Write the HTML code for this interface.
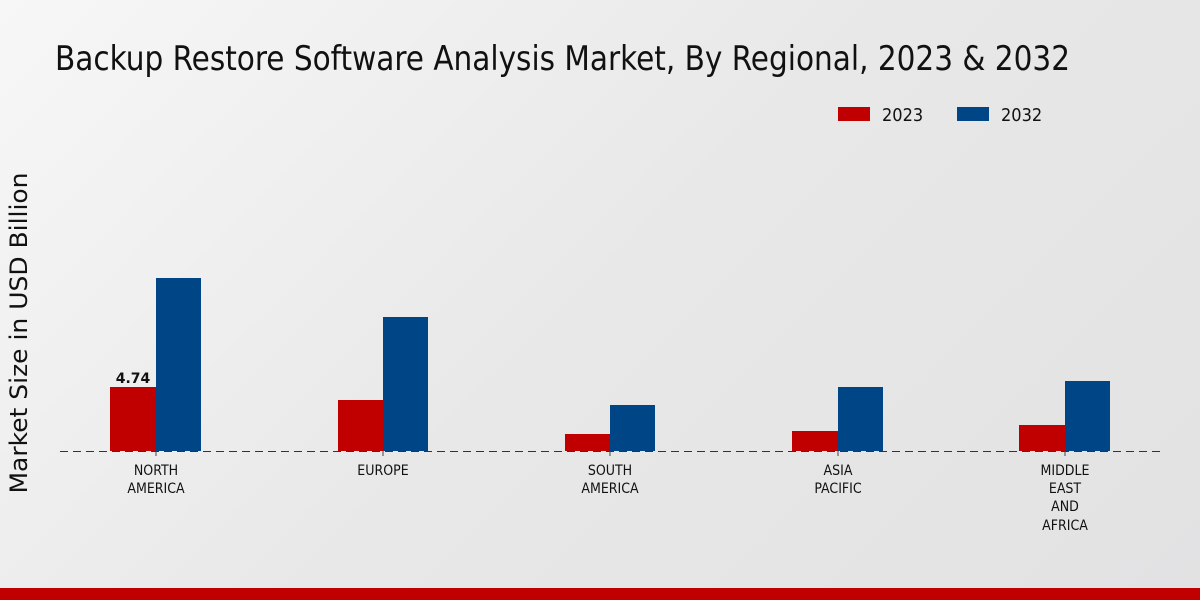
<!DOCTYPE html>
<html><head><meta charset="utf-8"><style>
body{margin:0;width:1200px;height:600px;overflow:hidden;background:linear-gradient(135deg,#f7f7f7 0%,#e8e8e8 50%,#e2e2e3 100%);font-family:"DejaVu Sans Condensed","DejaVu Sans","Liberation Sans",sans-serif;}
</style></head><body>
<svg width="1200" height="600" xmlns="http://www.w3.org/2000/svg" style="position:absolute;left:0;top:0">
<text x="55" y="70" font-size="34" fill="#111" font-family="DejaVu Sans Condensed, DejaVu Sans, sans-serif" textLength="1015" lengthAdjust="spacingAndGlyphs">Backup Restore Software Analysis Market, By Regional, 2023 &amp; 2032</text>
<rect x="838" y="107" width="32" height="14" fill="#c00000"/>
<text x="882" y="121" font-size="18" fill="#111">2023</text>
<rect x="957" y="107" width="32" height="14" fill="#004687"/>
<text x="1001" y="121" font-size="18" fill="#111">2032</text>
<text transform="translate(27,333) rotate(-90)" text-anchor="middle" font-size="24" fill="#111" font-family="DejaVu Sans, sans-serif" textLength="321" lengthAdjust="spacingAndGlyphs">Market Size in USD Billion</text>
<g>
<rect x="110" y="387" width="46" height="64" fill="#c00000"/><rect x="156" y="278" width="45" height="173" fill="#004687"/>
<rect x="338" y="400" width="45" height="51" fill="#c00000"/><rect x="383" y="317" width="45" height="134" fill="#004687"/>
<rect x="565" y="434" width="45" height="17" fill="#c00000"/><rect x="610" y="405" width="45" height="46" fill="#004687"/>
<rect x="792" y="431" width="46" height="20" fill="#c00000"/><rect x="838" y="387" width="45" height="64" fill="#004687"/>
<rect x="1019" y="425" width="46" height="26" fill="#c00000"/><rect x="1065" y="381" width="45" height="70" fill="#004687"/>
</g>
<line x1="60" y1="451.5" x2="1160" y2="451.5" stroke="#333" stroke-width="1" stroke-dasharray="8,5"/>
<text x="133" y="383" text-anchor="middle" font-size="14" font-weight="bold" fill="#111" font-family="DejaVu Sans, sans-serif">4.74</text>
<g font-size="14" fill="#111" text-anchor="middle">
<line x1="156" y1="451" x2="156" y2="456" stroke="#444"/><line x1="383" y1="451" x2="383" y2="456" stroke="#444"/><line x1="610" y1="451" x2="610" y2="456" stroke="#444"/><line x1="838" y1="451" x2="838" y2="456" stroke="#444"/><line x1="1065" y1="451" x2="1065" y2="456" stroke="#444"/>
<text x="156" y="475">NORTH</text><text x="156" y="493">AMERICA</text>
<text x="383" y="475">EUROPE</text>
<text x="610" y="475">SOUTH</text><text x="610" y="493">AMERICA</text>
<text x="838" y="475">ASIA</text><text x="838" y="493">PACIFIC</text>
<text x="1065" y="475">MIDDLE</text><text x="1065" y="493">EAST</text><text x="1065" y="511">AND</text><text x="1065" y="530">AFRICA</text>
</g>
<rect x="0" y="588" width="1200" height="12" fill="#c00000"/>
</svg>
</body></html>
